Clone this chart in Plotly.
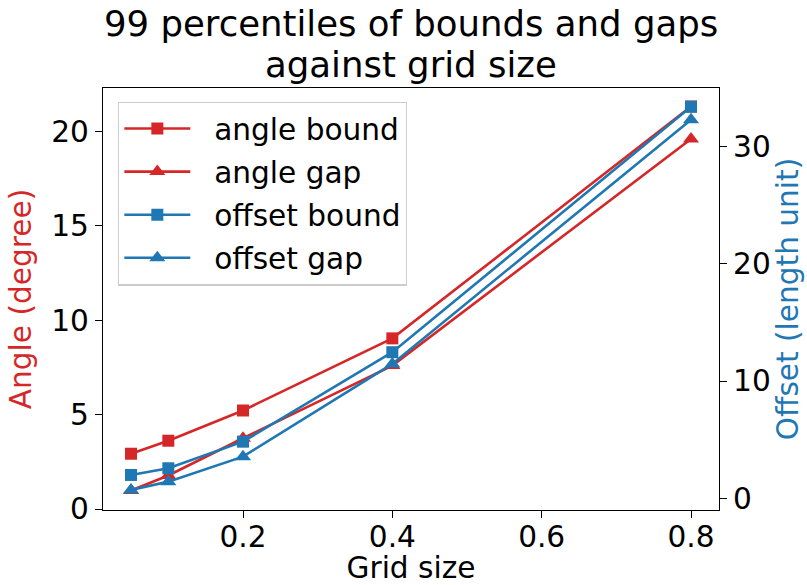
import plotly.graph_objects as go

grid_size = [0.05, 0.1, 0.2, 0.4, 0.8]
angle_bound = [2.93, 3.62, 5.22, 9.04, 21.32]
angle_gap = [0.98, 1.78, 3.75, 7.6, 19.6]
offset_bound = [1.99, 2.56, 4.83, 12.46, 33.4]
offset_gap = [0.71, 1.42, 3.55, 11.46, 32.3]

x_ticks = [0.2, 0.4, 0.6, 0.8]
x_tick_text = ["0.2", "0.4", "0.6", "0.8"]
left_ticks = [0, 5, 10, 15, 20]
right_ticks = [0, 10, 20, 30]

RED = "#d62728"
BLUE = "#1f77b4"
FONT = "DejaVu Sans"
FS = 29.6

fig = go.Figure()

series = [
    ("angle bound", angle_bound, RED, "square", "y", 12),
    ("angle gap", angle_gap, RED, "triangle-up", "y", 14),
    ("offset bound", offset_bound, BLUE, "square", "y2", 12),
    ("offset gap", offset_gap, BLUE, "triangle-up", "y2", 14),
]
for name, vals, col, sym, ax, ms in series:
    fig.add_trace(go.Scatter(
        x=grid_size, y=vals, name="\u00a0\u00a0" + name, yaxis=ax, legendgroup=name,
        mode="lines+markers",
        line=dict(color=col, width=2.6),
        marker=dict(symbol=sym, size=ms, color=col, line=dict(width=0)),
    ))

axis_common = dict(
    showline=True, linecolor="black", linewidth=1.3,
    ticks="outside", ticklen=7, tickwidth=1.3, tickcolor="black",
    showgrid=False, zeroline=False, automargin=False,
    tickfont=dict(family=FONT, size=FS, color="black"),
)

fig.update_layout(
    width=807, height=585,
    margin=dict(l=103, r=88, t=88, b=75, autoexpand=False),
    plot_bgcolor="white", paper_bgcolor="white",
    font=dict(family=FONT, size=FS, color="black"),
    xaxis=dict(
        range=[0.0125, 0.8375], tickvals=x_ticks, ticktext=x_tick_text,
        mirror=True, ticklabelstandoff=-7,
        title=dict(text="Grid size", font=dict(family=FONT, size=FS), standoff=6),
        **axis_common,
    ),
    yaxis=dict(
        range=[-0.05, 22.3], tickvals=left_ticks,
        title=dict(text="Angle (degree)", font=dict(family=FONT, size=FS, color=RED), standoff=10),
        **axis_common,
    ),
    yaxis2=dict(
        range=[-1.0, 35.0], tickvals=right_ticks, overlaying="y", side="right",
        title=dict(text="Offset (length unit)", font=dict(family=FONT, size=FS, color=BLUE), standoff=6),
        **axis_common,
    ),
    legend=dict(
        x=0.0244, y=0.9680, xanchor="left", yanchor="top",
        bgcolor="rgba(255,255,255,0.8)", bordercolor="#cccccc", borderwidth=1.3,
        font=dict(family=FONT, size=FS, color="black"),
        tracegroupgap=1.6, itemwidth=66,
    ),
    showlegend=True,
    annotations=[
        dict(text="99 percentiles of bounds and gaps", x=0.5, y=1.152, xref="paper", yref="paper",
             xanchor="center", yanchor="middle", showarrow=False,
             font=dict(family=FONT, size=35.5, color="black")),
        dict(text="against grid size", x=0.5, y=1.0565, xref="paper", yref="paper",
             xanchor="center", yanchor="middle", showarrow=False,
             font=dict(family=FONT, size=35.5, color="black")),
    ],
)

fig.write_html("out.html")
